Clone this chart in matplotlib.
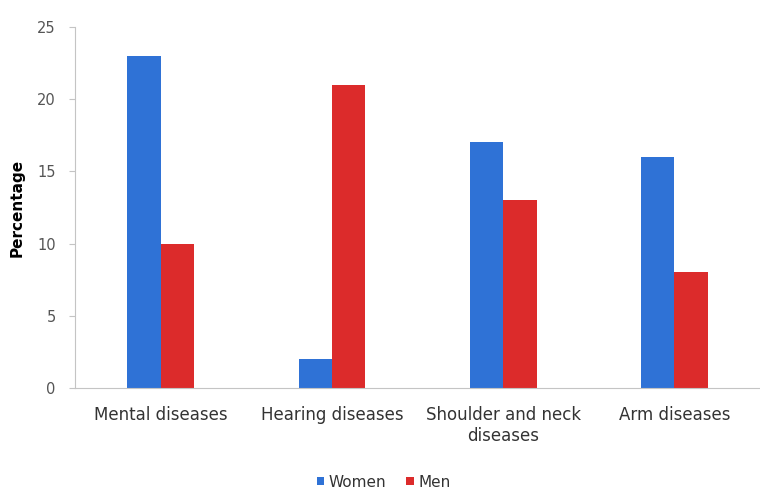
import matplotlib
matplotlib.use('Agg')
import matplotlib.pyplot as plt
import numpy as np

categories = ['Mental diseases', 'Hearing diseases', 'Shoulder and neck\ndiseases', 'Arm diseases']
women = [23, 2, 17, 16]
men = [10, 21, 13, 8]

BLUE = '#2f72d6'
RED = '#dc2b2b'
GRAY = '#c4c4c4'

plt.rcParams['font.family'] = ['DejaVu Sans']

fig = plt.figure(figsize=(7.6, 4.91), dpi=100)
ax = fig.add_axes([0.099, 0.21, 0.901, 0.735])

x = np.arange(len(categories))
w = 0.195
ax.bar(x - w / 2, women, width=w, color=BLUE, label='Women')
ax.bar(x + w / 2, men, width=w, color=RED, label='Men')

ax.set_xlim(-0.5, len(categories) - 0.5)
ax.set_ylim(0, 25)
ax.set_yticks(range(0, 26, 5))
ax.set_xticks(x)
ax.set_xticklabels(categories, fontsize=12, color='#333333', linespacing=1.2)
ax.tick_params(axis='y', labelsize=10.5, labelcolor='#555555', color=GRAY, length=4, pad=10)
ax.tick_params(axis='x', length=0, pad=13)

for side in ['top', 'right']:
    ax.spines[side].set_visible(False)
for side in ['left', 'bottom']:
    ax.spines[side].set_color(GRAY)

ax.set_ylabel('Percentage', fontsize=11, fontweight='bold', labelpad=9)

# legend below the plot
fig.legend(loc='lower center', bbox_to_anchor=(0.505, -0.025), ncol=2, frameon=False,
           fontsize=11, handlelength=0.5, handleheight=0.5, handletextpad=0.3,
           columnspacing=1.3, labelcolor='#333333')

fig.savefig('out.png', dpi=100)
